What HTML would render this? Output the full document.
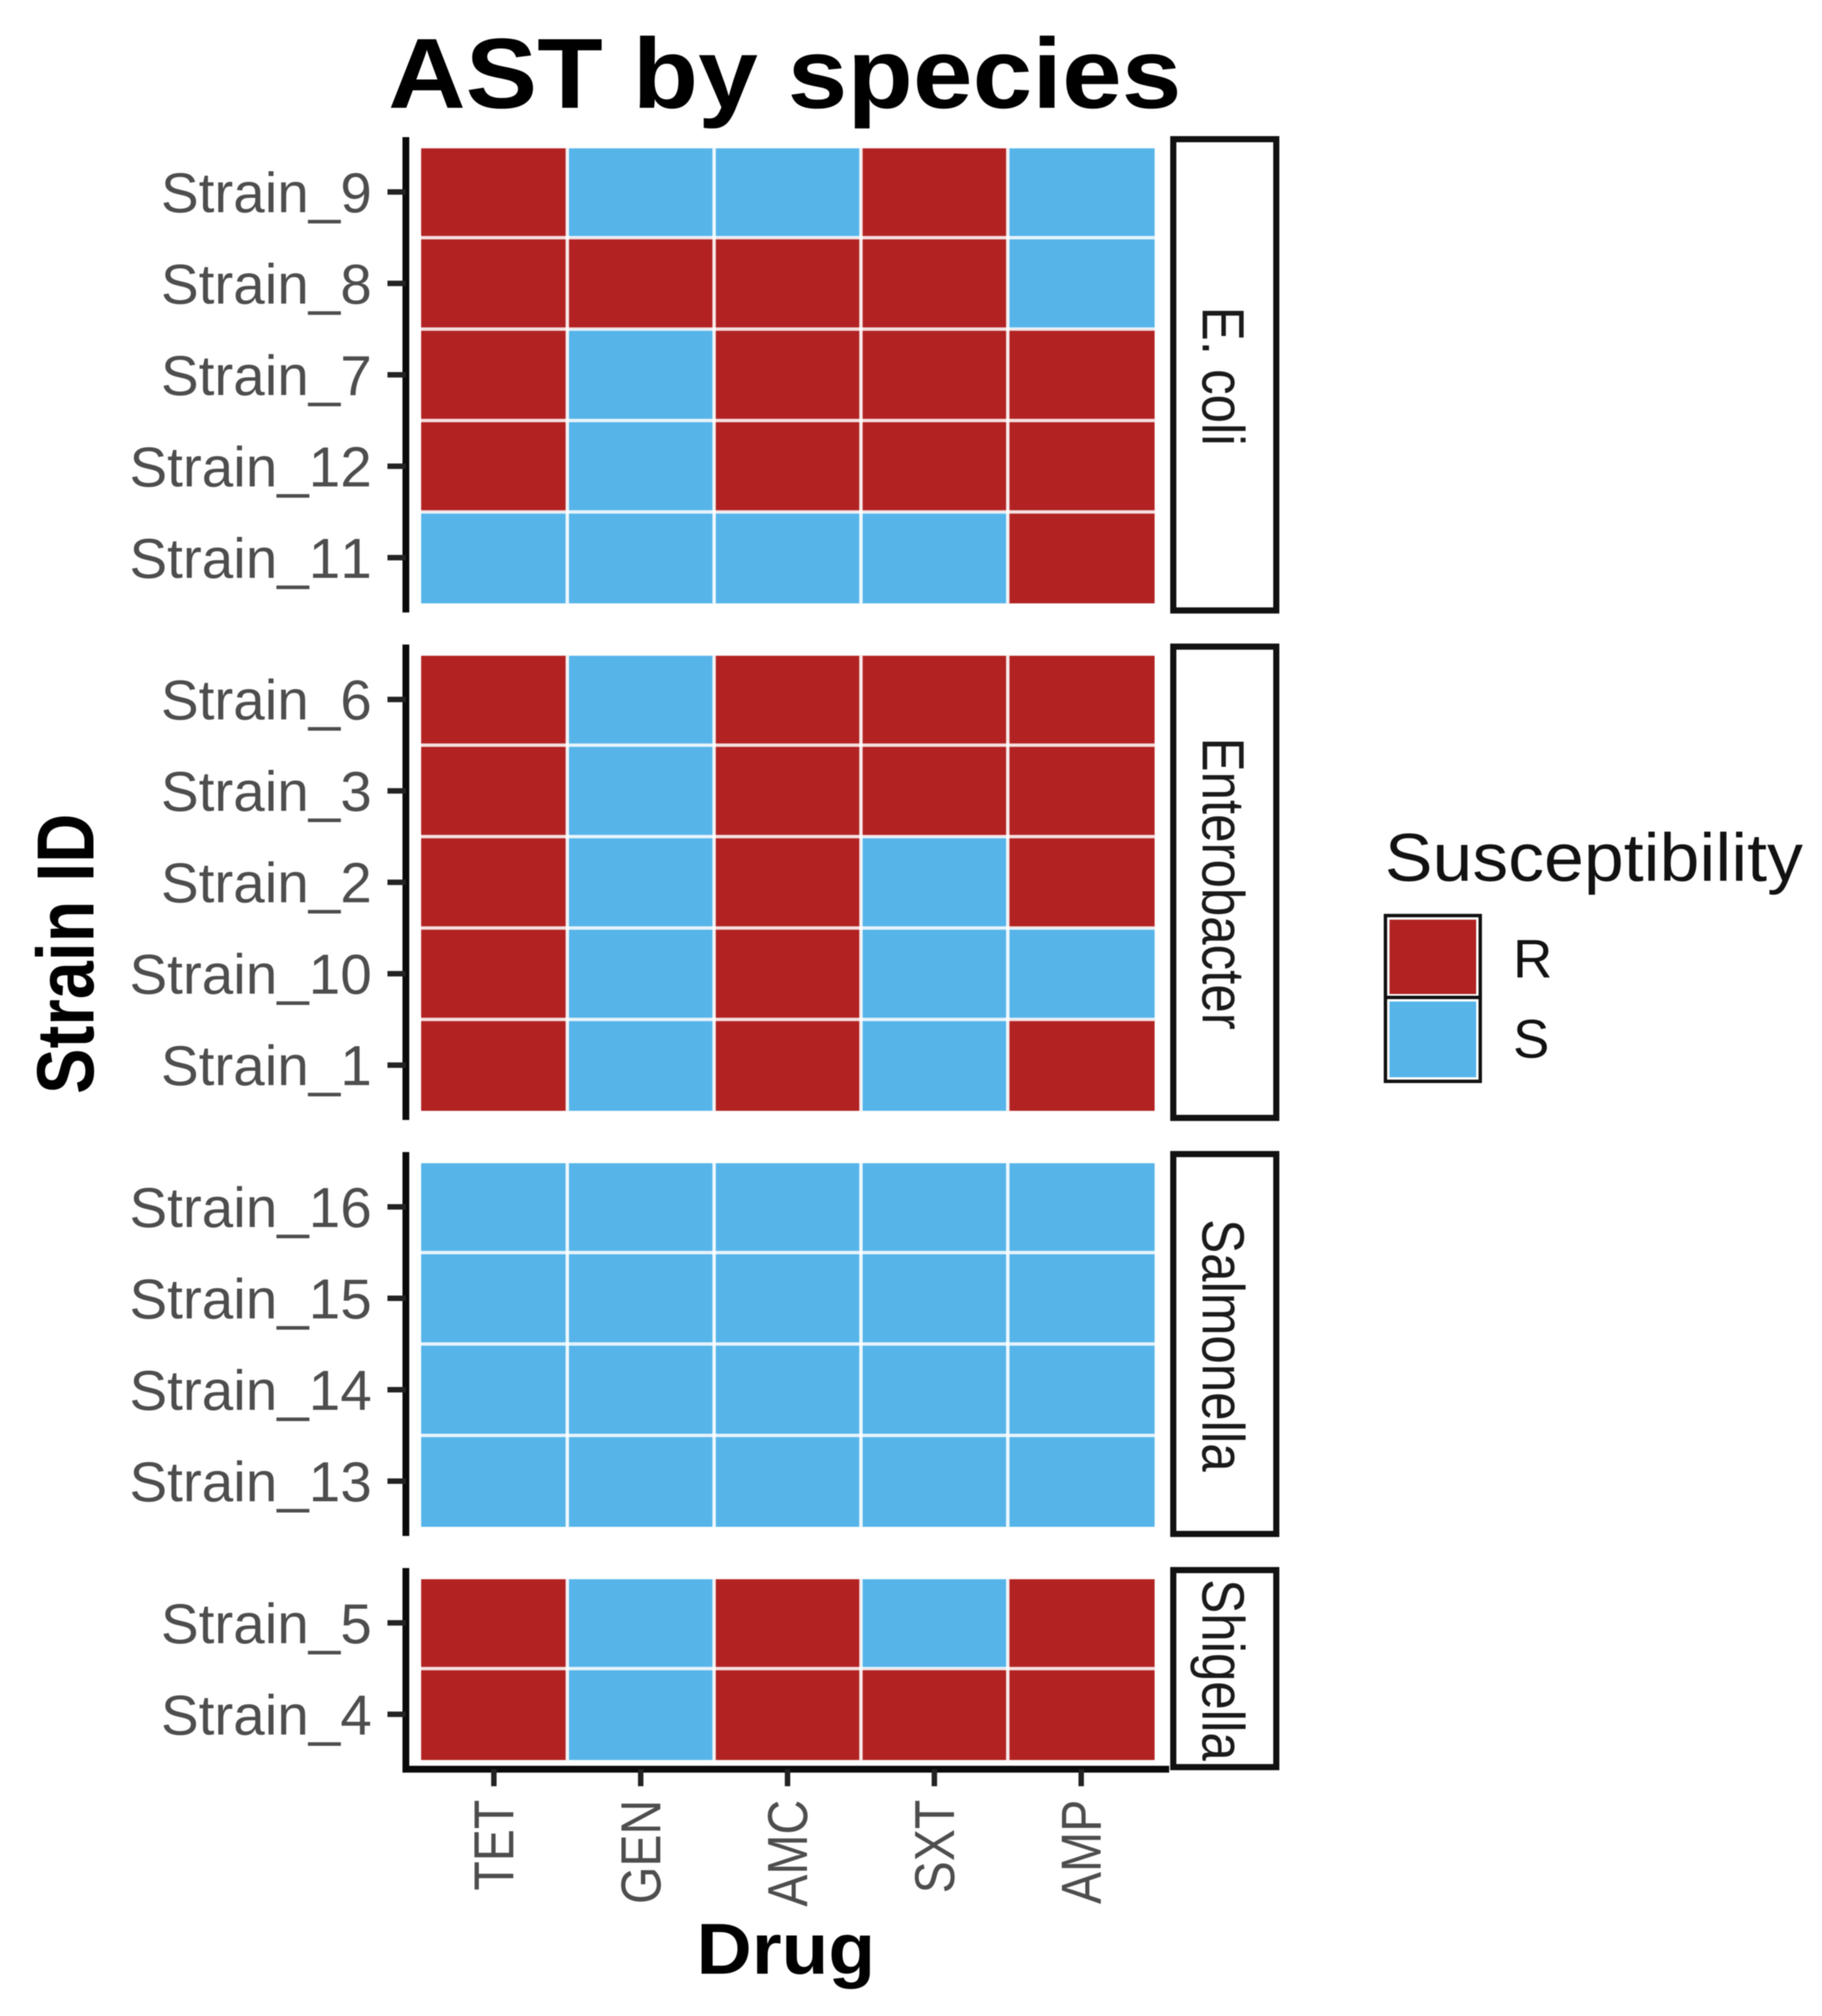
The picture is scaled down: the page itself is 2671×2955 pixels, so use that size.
<!DOCTYPE html>
<html lang="en">
<head>
<meta charset="utf-8">
<title>AST by species</title>
<style>
html,body{margin:0;padding:0;background:#fff;}
svg{display:block;font-family:"Liberation Sans",sans-serif;font-kerning:none;filter:blur(0.8px);}
</style>
</head>
<body>
<svg id="chart" xmlns="http://www.w3.org/2000/svg" width="2671" height="2955" viewBox="0 0 2671 2955">
  <rect x="0" y="0" width="2671" height="2955" fill="#ffffff"/>
  <text x="569" y="158" font-size="146" font-weight="700" fill="#000" textLength="1163" lengthAdjust="spacingAndGlyphs">AST by species</text>
  <text transform="translate(137,1398) rotate(-90) scale(0.84,1)" text-anchor="middle" font-size="119" font-weight="700" fill="#000">Strain ID</text>
  <text x="1021" y="2893" font-size="106" font-weight="700" fill="#000" textLength="262" lengthAdjust="spacingAndGlyphs">Drug</text>
  <g id="panels"></g>
  <g id="x-axis"></g>
  <g>
    <text x="2030" y="1291" font-size="99" fill="#111" textLength="613" lengthAdjust="spacingAndGlyphs">Susceptibility</text>
    <g>
      <rect x="2031" y="1342" width="139" height="120" fill="#ffffff" stroke="#111" stroke-width="5"/>
      <rect x="2037" y="1348" width="127" height="109" fill="#B22222"/>
      <text x="2218" y="1433" font-size="80" fill="#111">R</text>
    </g>
    <g>
      <rect x="2031" y="1462" width="139" height="123" fill="#ffffff" stroke="#111" stroke-width="5"/>
      <rect x="2037" y="1468" width="127" height="111" fill="#56B4E9"/>
      <text x="2218" y="1550" font-size="80" fill="#111">S</text>
    </g>
  </g>
</svg>
<script>
const drugs = ["TET", "GEN", "AMC", "SXT", "AMP"];
const species = ["E. coli", "Enterobacter", "Salmonella", "Shigella"];
const strainsEcoli = ["Strain_9", "Strain_8", "Strain_7", "Strain_12", "Strain_11"];
const strainsEnterobacter = ["Strain_6", "Strain_3", "Strain_2", "Strain_10", "Strain_1"];
const strainsSalmonella = ["Strain_16", "Strain_15", "Strain_14", "Strain_13"];
const strainsShigella = ["Strain_5", "Strain_4"];
const resultsEcoli = ["RSSRS", "RRRRS", "RSRRR", "RSRRR", "SSSSR"];
const resultsEnterobacter = ["RSRRR", "RSRRR", "RSRSR", "RSRSS", "RSRSR"];
const resultsSalmonella = ["SSSSS", "SSSSS", "SSSSS", "SSSSS"];
const resultsShigella = ["RSRSR", "RSRRR"];

const strainGroups = [strainsEcoli, strainsEnterobacter, strainsSalmonella, strainsShigella];
const resultGroups = [resultsEcoli, resultsEnterobacter, resultsSalmonella, resultsShigella];

const SVGNS = "http://www.w3.org/2000/svg";
const panelsRoot = document.getElementById("panels");
const xAxisRoot = document.getElementById("x-axis");
const fillFor = { R: "#B22222", S: "#56B4E9" };

const rowUnit = 134, panelGap = 47, panelTop0 = 201, pad = 0.6;
const colUnit = 215.25, xFirst = 724, axisX = 595;

function xScale(i) { return xFirst + i * colUnit; }
function panelHeight(n) { return (n - 1 + 2 * pad) * rowUnit; }
function panelTop(p) {
  let t = panelTop0;
  for (let k = 0; k < p; k++) t += panelHeight(strainGroups[k].length) + panelGap;
  return t;
}
function yScale(p, r) { return panelTop(p) + (pad + r) * rowUnit; }
function make(tag, attrs) {
  const n = document.createElementNS(SVGNS, tag);
  for (const k in attrs) n.setAttribute(k, attrs[k]);
  return n;
}

const plotLeft = xScale(0) - colUnit / 2;

species.forEach(function (sp, p) {
  const strains = strainGroups[p];
  const results = resultGroups[p];
  const top = panelTop(p);
  const h = panelHeight(strains.length);
  const group = make("g", {});
  
  
  panelsRoot.appendChild(group);

  const firstY = yScale(p, 0) - rowUnit / 2 + 3;
  const lastY = yScale(p, strains.length - 1) + rowUnit / 2;

  results.forEach(function (row, r) {
    drugs.forEach(function (d, c) {
      const y0 = r === 0 ? firstY : yScale(p, r) - rowUnit / 2;
      const y1 = yScale(p, r) + rowUnit / 2;
      const cell = make("rect", {
        x: xScale(c) - colUnit / 2 + (c === 0 ? 1 : 0),
        y: y0,
        width: colUnit - (c === 0 ? 1 : 0),
        height: y1 - y0,
        fill: fillFor[row[c]]
      });
      
      
      group.appendChild(cell);
    });
  });

  strains.forEach(function (s, r) {
    if (r === 0) return;
    const sep = make("line", {
      x1: plotLeft, x2: plotLeft + drugs.length * colUnit,
      y1: yScale(p, r) - rowUnit / 2, y2: yScale(p, r) - rowUnit / 2,
      stroke: "#fff", "stroke-width": 5, "stroke-opacity": 0.85
    });
    
    
    group.appendChild(sep);
  });
  drugs.forEach(function (d, c) {
    if (c === 0) return;
    const sep = make("line", {
      x1: xScale(c) - colUnit / 2, x2: xScale(c) - colUnit / 2,
      y1: firstY, y2: lastY,
      stroke: "#fff", "stroke-width": 5, "stroke-opacity": 0.9
    });
    
    
    group.appendChild(sep);
  });

  const axis = make("line", {
    x1: axisX, x2: axisX, y1: top, y2: top + h,
    stroke: "#0a0a0a", "stroke-width": 10
  });
  
  
  group.appendChild(axis);

  strains.forEach(function (s, r) {
    const y = yScale(p, r);
    const tick = make("line", {
      x1: 568, x2: axisX, y1: y, y2: y,
      stroke: "#222", "stroke-width": 8
    });
    
    
    group.appendChild(tick);

    const label = make("text", {
      x: 545, y: y + 29.5, "text-anchor": "end",
      "font-size": 83, fill: "#4d4d4d"
    });
    
    
    label.textContent = s;
    group.appendChild(label);
  });

  const strip = make("rect", {
    x: 1720, y: top + 3, width: 151, height: h - 6,
    fill: "#fff", stroke: "#111", "stroke-width": 9
  });
  
  
  group.appendChild(strip);

  const stripText = make("text", {
    transform: "translate(1763," + (top + h / 2 + 2) + ") rotate(90) scale(0.86,1)",
    "text-anchor": "middle", "font-size": 87, fill: "#1a1a1a"
  });
  
  
  stripText.textContent = sp;
  group.appendChild(stripText);
});

const axisBottom = panelTop(species.length - 1) + panelHeight(strainGroups[species.length - 1].length);
const xLine = make("line", {
  x1: axisX - 5, x2: 1714, y1: axisBottom, y2: axisBottom,
  stroke: "#0a0a0a", "stroke-width": 10
});


xAxisRoot.appendChild(xLine);

drugs.forEach(function (d, c) {
  const x = xScale(c);
  const tick = make("line", {
    x1: x, x2: x, y1: axisBottom, y2: axisBottom + 25,
    stroke: "#222", "stroke-width": 8
  });
  
  
  xAxisRoot.appendChild(tick);

  const label = make("text", {
    transform: "translate(" + (x + 28.5) + ",2638) rotate(-90) scale(0.85,1)",
    "text-anchor": "end", "font-size": 83, fill: "#4d4d4d"
  });
  
  
  label.textContent = d;
  xAxisRoot.appendChild(label);
});
</script>
</body>
</html>
